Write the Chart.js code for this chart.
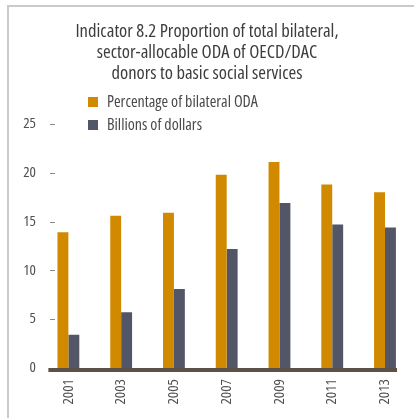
<!DOCTYPE html>
<html>
<head>
<meta charset="utf-8">
<script src="https://cdn.jsdelivr.net/npm/chart.js@4"></script>
<style>
  body { margin: 0; background: #fff; }
  #wrap { position: relative; width: 414px; height: 418px; }
  #frame { position: absolute; left: 7px; top: 5px; right: 0; bottom: 0; border-left: 2px solid #cacaca; border-top: 2px solid #cacaca; pointer-events: none; }
</style>
</head>
<body>
<div id="wrap">
  <canvas id="chart" width="414" height="418"></canvas>
  <div id="frame"></div>
</div>
<script>
const years = ["2001", "2003", "2005", "2007", "2009", "2011", "2013"];
const percentBilateral = [13.9, 15.6, 15.9, 19.8, 21.1, 18.8, 18.0];
const billionsDollars = [3.4, 5.7, 8.1, 12.2, 16.9, 14.7, 14.4];
const yTicks = [0, 5, 10, 15, 20, 25];
const titleLines = [
    "Indicator 8.2 Proportion of total bilateral,",
    "sector-allocable ODA of OECD/DAC",
    "donors to basic social services"
];

// Open Sans squeezed with font-stretch, close to the condensed face of the original
const FONT = "'Open Sans', sans-serif";
const STRETCH = "condensed";

// legend, baseline and little tick dashes
const extras = {
    id: "extras",
    afterDraw(chart) {
        const ctx = chart.ctx;
        const x = chart.scales.x;
        const y = chart.scales.y;
        const y0 = y.getPixelForValue(0);

        ctx.save();
        ctx.fillStyle = "#5d5048";
        const xs = x.getPixelForValue(0) - 20;
        const xe = x.getPixelForValue(years.length - 1) + 12;
        ctx.fillRect(xs, y0, xe - xs, 4);

        ctx.strokeStyle = "#8a8a8a";
        ctx.lineWidth = 1;
        yTicks.forEach(v => {
            if (v === 0) return;
            const py = Math.round(y.getPixelForValue(v)) + 0.5;
            ctx.beginPath();
            ctx.moveTo(50, py);
            ctx.lineTo(55, py);
            ctx.stroke();
        });

        ctx.font = STRETCH + " 16px " + FONT;
        ctx.textBaseline = "middle";
        chart.data.datasets.forEach((ds, i) => {
            const ly = 102 + i * 23;
            ctx.fillStyle = ds.backgroundColor;
            ctx.fillRect(88, ly - 5, 10, 10);
            ctx.fillStyle = "#4a4a4a";
            ctx.fillText(ds.label, 107, ly);
        });
        ctx.restore();
    }
};

new Chart(document.getElementById("chart"), {
    type: "bar",
    data: {
        labels: years,
        datasets: [
            { label: "Percentage of bilateral ODA", data: percentBilateral, backgroundColor: "#d18a00" },
            { label: "Billions of dollars", data: billionsDollars, backgroundColor: "#525667" }
        ]
    },
    options: {
        responsive: false,
        animation: false,
        layout: { padding: 0 },
        datasets: { bar: { categoryPercentage: 0.414, barPercentage: 1 } },
        plugins: {
            legend: { display: false },
            tooltip: { enabled: false },
            title: {
                display: true,
                text: titleLines,
                color: "#3d3d3d",
                font: { family: FONT, size: 18.6, weight: STRETCH, lineHeight: 1.129 },
                padding: { top: 21, bottom: 40 }
            }
        },
        scales: {
            x: {
                grid: { display: false, drawTicks: false },
                border: { display: false },
                afterFit: axis => { axis.height = 50; },
                ticks: {
                    color: "#505050",
                    font: { family: FONT, size: 15, weight: STRETCH },
                    padding: 11,
                    maxRotation: 90,
                    minRotation: 90
                }
            },
            y: {
                min: 0,
                max: 25,
                grid: { display: false, drawTicks: false },
                border: { display: false },
                afterFit: axis => { axis.width = 42; },
                afterBuildTicks: axis => { axis.ticks = yTicks.map(v => ({ value: v })); },
                ticks: {
                    color: "#505050",
                    font: { family: FONT, size: 15, weight: STRETCH },
                    padding: 6
                }
            }
        }
    },
    plugins: [extras]
});
</script>
</body>
</html>
